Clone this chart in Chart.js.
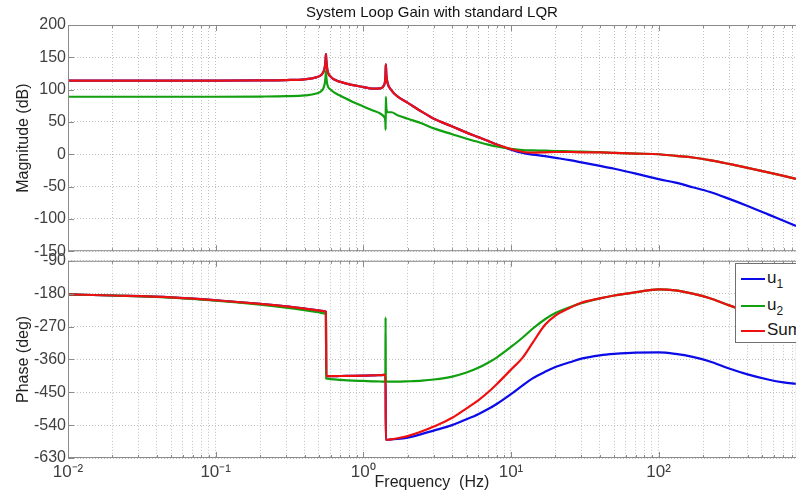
<!DOCTYPE html>
<html>
<head>
<meta charset="utf-8">
<title>System Loop Gain with standard LQR</title>
<script src="https://cdn.jsdelivr.net/npm/chart.js"></script>
<style>
body {
	margin: 0;
	width: 796px;
	height: 492px;
	overflow: hidden;
	background: #fff;
	position: relative;
	font-family: "Liberation Sans", Arial, sans-serif;
}
#magChart { position: absolute; left: 0; top: 0; }
#phaseChart { position: absolute; left: 0; top: 250px; }
#legend {
	position: absolute;
	left: 735px;
	top: 263px;
	width: 90px;
	height: 78px;
	border: 1px solid #707070;
	background: #fff;
	color: #1a1a1a;
	font-size: 17px;
}
.row { position: absolute; left: 0; height: 20px; }
.swatch { position: absolute; left: 5px; top: 9px; width: 24px; height: 0; border-top: 2px solid; }
.lbl { position: absolute; left: 31px; top: -1px; white-space: nowrap; }
.lbl sub { font-size: 12px; vertical-align: -5px; }
</style>
</head>
<body>
<canvas id="magChart" width="796" height="262"></canvas>
<canvas id="phaseChart" width="796" height="242"></canvas>
<div id="legend"></div>

<script>
// frequency points (Hz), extra points around the two resonances
const freqHz = [0.01, 0.02, 0.05, 0.1, 0.2, 0.3, 0.4, 0.48, 0.52, 0.54,
	0.55, 0.555, 0.558, 0.561, 0.57, 0.6, 0.7, 0.85, 1.0, 1.15,
	1.3, 1.38, 1.41, 1.415, 1.42, 1.43, 1.46, 1.55, 1.7, 2,
	2.5, 3, 4, 5, 6, 7, 8, 10, 12, 14,
	17, 20, 25, 30, 40, 50, 70, 100, 130, 170,
	220, 300, 400, 550, 700, 850];

// magnitude (dB)
const magU1 = [114, 114, 114, 114, 114.3, 114.8, 116, 119, 123, 129,
	137, 147, 155, 146, 131, 120, 112, 107, 104, 101.5,
	102, 107, 120, 130, 139, 124, 110, 99, 89.5, 79.5,
	65.5, 55, 43, 33.5, 26.5, 20.5, 15, 7, 2, -0.5,
	-3, -5.5, -9, -12.5, -18, -22.5, -30, -38.5, -44, -51,
	-58, -69, -80, -93, -103, -111];
const magU2 = [89, 89, 89, 89, 89.3, 89.8, 91, 94, 98, 104,
	112, 121, 129, 120, 108, 100, 90.5, 81, 74, 68,
	63, 58, 50, 38, 89, 72, 65, 65, 60.5, 55,
	47.5, 40, 31, 24, 19, 15, 12, 8.5, 6.5, 6,
	5.5, 5, 4.5, 4, 3.3, 2, 1, 0, -2.5, -5,
	-9, -15, -21, -28, -33.5, -38];
const magSum = [114, 114, 114, 114, 114.3, 114.8, 116, 119, 123, 129,
	137, 147, 155, 146, 131, 120, 112, 107, 104, 101.5,
	102, 107, 120, 130, 139, 124, 110, 99, 89.5, 79.5,
	65.5, 55, 43, 33.5, 26.5, 20.5, 15, 8, 3.5, 2.5,
	3, 3.5, 3.5, 3, 3, 2, 1, 0, -2.5, -5,
	-9, -15, -21, -28, -33.5, -38];

// phase (deg)
const phaseU1 = [-182, -185, -190, -198, -208, -215, -221, -225, -227, -228,
	-228.5, -229, -229.5, -406, -406, -406, -405.5, -405, -404.5, -404,
	-403, -402.5, -402, -402, -580, -580, -580, -579, -578, -574,
	-564, -555, -540, -524, -510, -496, -482, -455, -431, -412,
	-394, -381, -368, -358, -349, -345, -341.5, -341, -345, -353,
	-365, -385, -401, -415, -423, -427];
const phaseU2 = [-182, -185, -191, -199, -210, -218, -225, -230, -232.5, -234,
	-235, -235.5, -236, -412, -413, -414, -416, -418, -419, -420,
	-420.5, -421, -421, -245, -421, -421, -421, -421, -421, -420,
	-418, -415, -407, -396, -383, -369, -355, -326, -300, -276,
	-250, -233, -217, -206, -193, -185, -176, -168, -171, -180,
	-192, -212, -228, -240, -245, -248];
const phaseSum = [-182, -185, -190, -198, -208, -215, -221, -225, -227, -228,
	-228.5, -229, -229.5, -406, -406, -406, -405.5, -405, -404.5, -404,
	-403, -402.5, -402, -402, -580, -580, -580, -579, -576, -570,
	-557, -544, -520, -494, -472, -450, -428, -388, -355, -315,
	-265, -240, -219, -205, -193, -185, -176, -168, -171, -180,
	-192, -212, -228, -240, -245, -248];

const seriesNames = ['u<sub>1</sub>', 'u<sub>2</sub>', 'Sum'];
const seriesColors = ['#0b0be8', '#10a010', '#ee1010'];

// log grid positions 1..9 x 10^n
const freqTicks = [];
for (let e = -2; e <= 2; e++) {
	for (let s = 1; s <= 9; s++) {
		const v = Number((s * Math.pow(10, e)).toPrecision(6));
		if (v <= 850) freqTicks.push(v);
	}
}

const supers = {'-': '\u207B', '0': '\u2070', '1': '\u00B9', '2': '\u00B2', '3': '\u00B3'};
function decadeLabel(v) {
	const e = Math.round(Math.log10(v));
	if (Math.abs(v / Math.pow(10, e) - 1) > 1e-6) return '';
	return '10' + String(e).split('').map(c => supers[c]).join('');
}

function pts(ys) {
	return freqHz.map((f, i) => ({x: f, y: ys[i]}));
}

function makeSets(a, b, c) {
	return [a, b, c].map((ys, i) => ({
		label: seriesNames[i],
		data: pts(ys),
		borderColor: seriesColors[i],
		borderWidth: 2.2,
		pointRadius: 0,
		cubicInterpolationMode: 'monotone',
		order: 3 - i
	}));
}

const gridCol = '#c2c2c2';
const textCol = '#404040';

function xScale(showLabels) {
	return {
		type: 'logarithmic',
		min: 0.01,
		max: 850,
		afterBuildTicks: s => {
			s.ticks = freqTicks.map(v => ({value: v, major: decadeLabel(v) !== ''}));
		},
		afterFit: s => { s.height = showLabels ? 34 : 10; },
		grid: {color: gridCol, drawTicks: false},
		border: {display: false, dash: [1, 2]},
		ticks: {
			display: showLabels,
			autoSkip: false,
			maxRotation: 0,
			padding: 4,
			color: textCol,
			font: {size: 17},
			callback: v => decadeLabel(v)
		},
		title: {
			display: showLabels,
			text: 'Frequency  (Hz)',
			color: '#222',
			font: {size: 16},
			padding: {top: 0, bottom: 0}
		}
	};
}

function yScale(min, max, step, label) {
	return {
		min: min,
		max: max,
		afterFit: s => { s.width = 68; },
		grid: {color: gridCol, drawTicks: false},
		border: {display: false, dash: [1, 2]},
		ticks: {stepSize: step, padding: 2, color: textCol, font: {size: 16, lineHeight: 1.1}},
		title: {display: true, text: label, color: '#222', font: {size: 16}, padding: {top: 14, bottom: 0}}
	};
}

// box round the axes plus inside tick marks, like the original plot
const axesBox = {
	id: 'axesBox',
	afterDraw(chart) {
		const ctx = chart.ctx;
		const a = chart.chartArea;
		const sx = chart.scales.x, sy = chart.scales.y;
		ctx.save();
		ctx.strokeStyle = '#8a8a8a';
		ctx.lineWidth = 1;
		ctx.beginPath();
		ctx.rect(a.left + 0.5, a.top + 0.5, a.right - a.left, a.bottom - a.top - 1);
		sx.ticks.forEach(t => {
			const px = Math.round(sx.getPixelForValue(t.value)) + 0.5;
			const len = t.major ? 6 : 3;
			ctx.moveTo(px, a.top); ctx.lineTo(px, a.top + len);
			ctx.moveTo(px, a.bottom); ctx.lineTo(px, a.bottom - len);
		});
		sy.ticks.forEach(t => {
			const py = Math.round(sy.getPixelForValue(t.value)) + 0.5;
			ctx.moveTo(a.left, py); ctx.lineTo(a.left + 6, py);
		});
		ctx.stroke();
		ctx.restore();
	}
};

Chart.defaults.font.family = '"Liberation Sans", Arial, sans-serif';

const magChart = new Chart('magChart', {
	type: 'line',
	data: {datasets: makeSets(magU1, magU2, magSum)},
	options: {
		responsive: false,
		animation: false,
		layout: {padding: 0},
		scales: {
			x: xScale(false),
			y: yScale(-150, 200, 50, 'Magnitude (dB)')
		},
		plugins: {
			legend: {display: false},
			tooltip: {enabled: false},
			title: {
				display: true,
				text: 'System Loop Gain with standard LQR',
				fullSize: false,
				color: '#111',
				font: {size: 15, weight: 'normal'},
				padding: {top: 4, bottom: 3}
			}
		}
	},
	plugins: [axesBox]
});

const phaseChart = new Chart('phaseChart', {
	type: 'line',
	data: {datasets: makeSets(phaseU1, phaseU2, phaseSum)},
	options: {
		responsive: false,
		animation: false,
		layout: {padding: {top: 9}},
		scales: {
			x: xScale(true),
			y: yScale(-630, -90, 90, 'Phase (deg)')
		},
		plugins: {
			legend: {display: false},
			tooltip: {enabled: false}
		}
	},
	plugins: [axesBox]
});

// legend box drawn in html, placed like the matlab one
const legendBox = document.getElementById('legend');
const rowTops = [5, 32, 57];
seriesNames.forEach((name, i) => {
	const row = document.createElement('div');
	row.className = 'row';
	row.style.top = rowTops[i] + 'px';
	row.innerHTML = '<span class="swatch" style="border-color:' + seriesColors[i] + '"></span><span class="lbl">' + name + '</span>';
	legendBox.appendChild(row);
});
</script>
</body>
</html>
